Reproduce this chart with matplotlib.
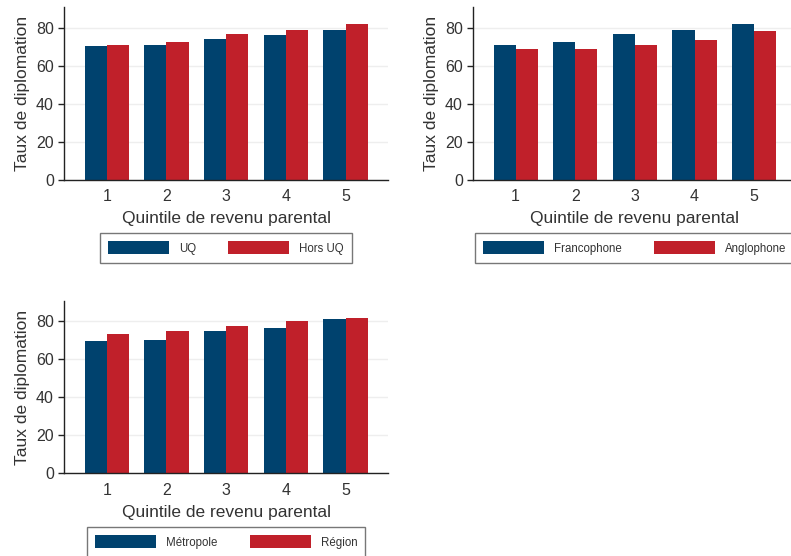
import numpy as np
import matplotlib
matplotlib.use("Agg")
import matplotlib.pyplot as plt

plt.rcParams['font.family'] = ['Liberation Sans', 'DejaVu Sans']

# %% data
quintiles = [1, 2, 3, 4, 5]

uq = [70.2, 70.7, 73.9, 76.0, 78.6]
hors_uq = [70.7, 72.3, 76.5, 78.6, 81.8]

francophone = [70.7, 72.3, 76.5, 78.6, 81.8]
anglophone = [68.6, 68.6, 70.7, 73.3, 78.1]

metropole = [69.6, 70.2, 74.9, 76.5, 81.2]
region = [73.3, 74.9, 77.5, 80.2, 81.8]

blue = "#00426e"
red = "#c0202a"
text_col = "#333333"

# %% figure
fig = plt.figure(figsize=(7.91, 5.56), dpi=100)
W, H = 791, 556


def px_axes(left, top, right, bottom):
    return fig.add_axes([left / W, 1 - bottom / H, (right - left) / W, (bottom - top) / H])


def panel(ax, a, b, la, lb, legend_y):
    x = np.array(quintiles)
    w = 0.37
    ax.bar(x - w / 2, a, w, color=blue, label=la, zorder=2)
    ax.bar(x + w / 2, b, w, color=red, label=lb, zorder=2)
    ax.set_xlim(0.29, 5.71)
    ax.set_ylim(0, 90.8)
    ax.set_yticks([0, 20, 40, 60, 80])
    ax.set_xticks(quintiles)
    ax.yaxis.grid(True, color="#eeeeee", linewidth=1, zorder=0)
    ax.set_axisbelow(True)
    for s in ["top", "right"]:
        ax.spines[s].set_visible(False)
    for s in ["left", "bottom"]:
        ax.spines[s].set_color("#222222")
        ax.spines[s].set_linewidth(1)
    ax.tick_params(axis="y", length=4.5, width=1, color="#222222", pad=3,
                   labelsize=11.5, labelcolor=text_col)
    ax.tick_params(axis="x", length=0, pad=7, labelsize=11.5, labelcolor=text_col)
    ax.set_xlabel("Quintile de revenu parental", fontsize=12.5, color=text_col, labelpad=5)
    ax.set_ylabel("Taux de diplomation", fontsize=12.5, color=text_col, labelpad=4)
    fs = 8.3
    fpx = fs * 100 / 72
    leg = ax.legend(loc="upper center", bbox_to_anchor=(0.5, legend_y), ncol=2,
                    fontsize=fs, frameon=True, fancybox=False, edgecolor="#555555",
                    handlelength=61 / fpx, handleheight=16 / fpx, handletextpad=10 / fpx,
                    columnspacing=32 / fpx, borderpad=0.72, borderaxespad=0,
                    labelcolor=text_col)
    leg.get_frame().set_linewidth(1)


ax1 = px_axes(64.3, 7, 388, 179.5)
panel(ax1, uq, hors_uq, "UQ", "Hors UQ", -0.31)

ax2 = px_axes(473.3, 7, 796.5, 179.5)
panel(ax2, francophone, anglophone, "Francophone", "Anglophone", -0.31)

ax3 = px_axes(64.3, 300.7, 388, 473.3)
panel(ax3, metropole, region, "Métropole", "Région", -0.31)

fig.savefig("out.png", dpi=100)
